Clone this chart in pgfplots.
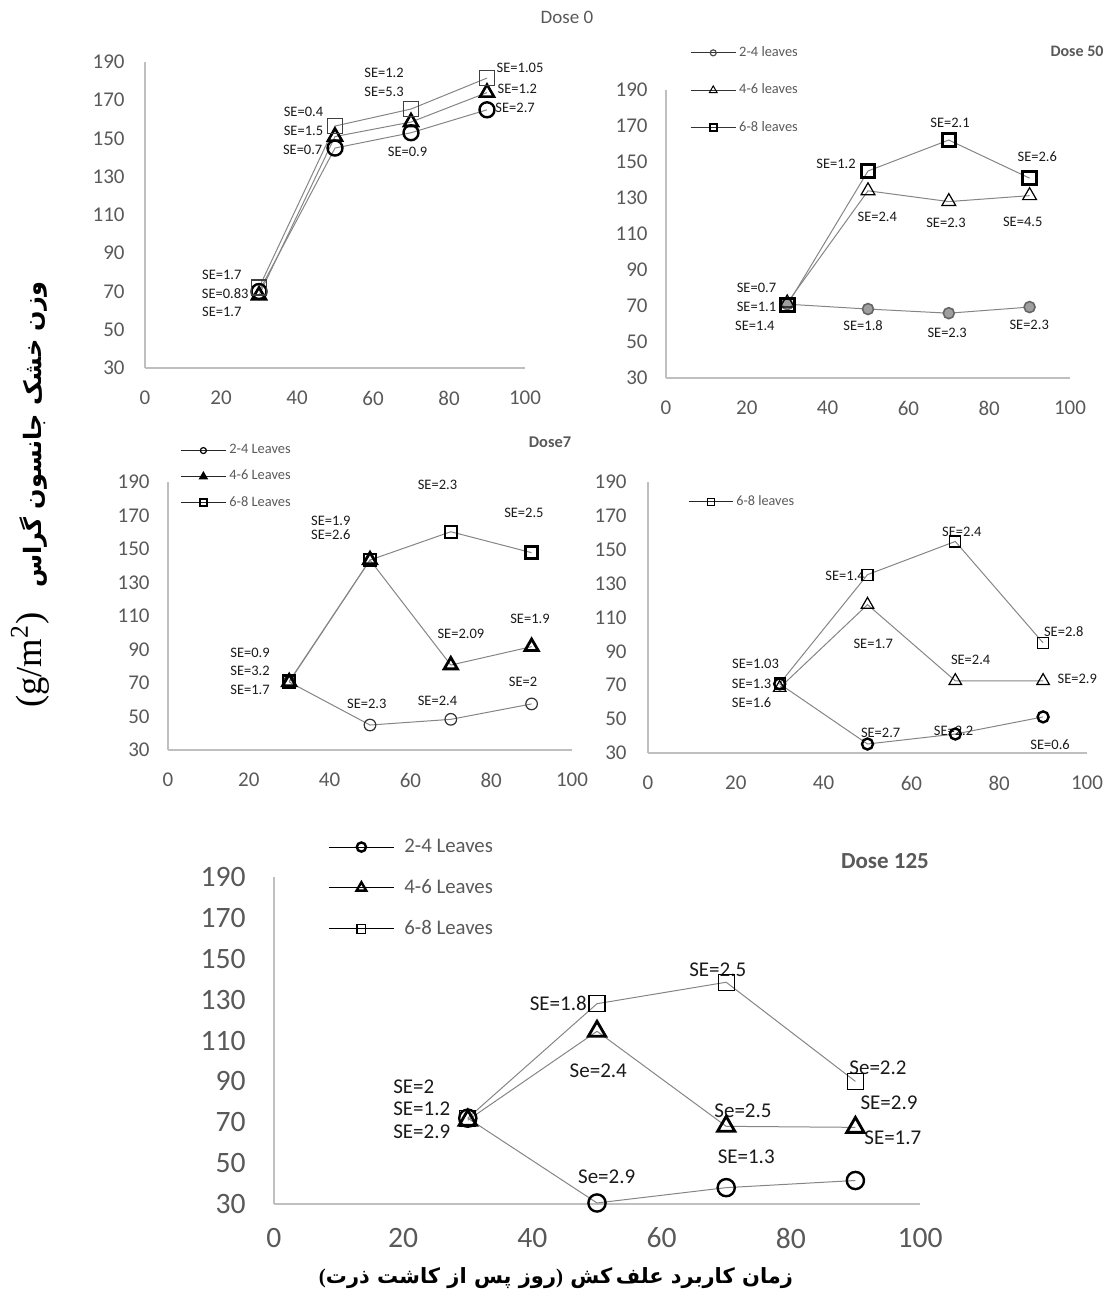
\documentclass[border=0pt]{standalone}
\usepackage{fontspec}
\usepackage{graphicx}
\usepackage{pgfplots}
\pgfplotsset{compat=1.18}
\setmainfont{Carlito}
\newfontfamily\arabicfont[Script=Arabic]{DejaVu Sans}
\newfontfamily\timesfont{Liberation Serif}
\TeXXeTstate=1
\definecolor{axgray}{HTML}{BFBFBF}
\definecolor{tickgray}{HTML}{595959}
\definecolor{linegray}{HTML}{858585}
\definecolor{setext}{HTML}{1A1A1A}
\pgfplotsset{
 panel/.style={
  scale only axis, anchor=south west,
  xmin=0,xmax=100,ymin=30,ymax=190,
  xtick={0,20,...,100}, ytick={30,50,...,190},
  axis lines=left, axis line style={draw=axgray,line width=1pt,-},
  major tick length=0pt, tick style={draw=none},
  /pgf/number format/assume math mode=true,
  tick label style={text=tickgray},
  clip=false,
  legend cell align=left,
  legend style={draw=none, fill=none, inner sep=0pt, text=tickgray, anchor=north west, column sep=1.5pt,
    nodes={inner sep=0pt}},
 },
 ticksize/.style={tick label style={font=\fontsize{#1}{#1}\selectfont}},
 ygap/.style={yticklabel style={anchor=east, inner sep=0pt, xshift=-#1}},
 xgap/.style={xticklabel style={anchor=center, inner sep=0pt, yshift=-#1}},
 ser/.style={color=linegray, line width=0.5pt},
 legimg/.style 2 args={legend image code/.code={\draw[mark repeat=2,mark phase=2,##1] plot coordinates {(0pt,0pt) (#2,0pt) (#1,0pt)};}},
}
\tikzset{se/.style={font=\fontsize{7.25}{8}\selectfont, text=setext, inner sep=0pt},
         sebig/.style={font=\fontsize{10.5}{11}\selectfont, text=setext, inner sep=0pt}}
\begin{document}
\begin{tikzpicture}
\useasboundingbox (0,0) rectangle (554pt,648pt);
% ---------------- Dose 0
\begin{axis}[panel, at={(72.5pt,464pt)}, width=190pt, height=153pt, ticksize=10.5, ygap=10pt, xgap=15pt]
\addplot[ser, mark=o, mark size=3.75pt, mark options={draw=black, line width=1.2pt}] coordinates {(30,70) (50,145) (70,153) (90,165)};
\addplot[ser, mark=triangle, mark size=4pt, mark options={draw=black, line width=1.3pt}] coordinates {(30,68) (50,151) (70,158.6) (90,174)};
\addplot[ser, mark=square, mark size=3.75pt, mark options={draw=black!75, line width=0.8pt}] coordinates {(30,72) (50,156.5) (70,165.4) (90,181.6)};
\node[se] at (axis cs:20.2,78.6) {SE=1.7};
\node[se] at (axis cs:21.1,69.1) {SE=0.83};
\node[se] at (axis cs:20.2,59.1) {SE=1.7};
\node[se] at (axis cs:41.7,164) {SE=0.4};
\node[se] at (axis cs:41.7,154.1) {SE=1.5};
\node[se] at (axis cs:41.5,144) {SE=0.7};
\node[se] at (axis cs:62.9,184.4) {SE=1.2};
\node[se] at (axis cs:62.9,174.5) {SE=5.3};
\node[se] at (axis cs:69.1,143.1) {SE=0.9};
\node[se] at (axis cs:98.7,187) {SE=1.05};
\node[se] at (axis cs:98,175.7) {SE=1.2};
\node[se] at (axis cs:97.4,165.8) {SE=2.7};
\end{axis}
% ---------------- Dose 50
\begin{axis}[panel, at={(333pt,459pt)}, width=202pt, height=144pt, ticksize=10.5, ygap=9pt, xgap=15pt,
  legimg={22.5pt}{11.25pt},
  legend style={at={(0.059,1.153)}, font=\fontsize{7.2}{8}\selectfont, row sep=12.25pt}]
\addlegendimage{black!80, line width=0.5pt, mark=o, mark size=1.5pt, mark options={draw=black!70, line width=0.6pt}}
\addlegendentry{2-4 leaves}
\addlegendimage{black!80, line width=0.5pt, mark=triangle, mark size=2.2pt, mark options={draw=black, line width=0.5pt}}
\addlegendentry{4-6 leaves}
\addlegendimage{black!80, line width=0.5pt, mark=square, mark size=1.8pt, mark options={draw=black, line width=1pt}}
\addlegendentry{6-8 leaves}
\addplot[ser, forget plot, mark=*, mark size=2.75pt, mark options={draw=black!60, fill=gray!75, line width=0.8pt}] coordinates {(30,71) (50,68.3) (70,66) (90,69.4)};
\addplot[ser, forget plot, mark=triangle, mark size=4pt, mark options={draw=black, line width=0.6pt}] coordinates {(30,71.7) (50,134) (70,128) (90,131.3)};
\addplot[ser, forget plot, mark=square, mark size=3.4pt, mark options={draw=black, line width=1.5pt}] coordinates {(30,70.5) (50,145) (70,162.2) (90,141)};
\node[se] at (axis cs:22.4,80.2) {SE=0.7};
\node[se] at (axis cs:22.4,69.6) {SE=1.1};
\node[se] at (axis cs:22.0,59.1) {SE=1.4};
\node[se] at (axis cs:42.1,148.7) {SE=1.2};
\node[se] at (axis cs:52.3,119.3) {SE=2.4};
\node[se] at (axis cs:70.3,172) {SE=2.1};
\node[se] at (axis cs:69.3,116.3) {SE=2.3};
\node[se] at (axis cs:91.9,153) {SE=2.6};
\node[se] at (axis cs:88.3,116.8) {SE=4.5};
\node[se] at (axis cs:48.8,58.9) {SE=1.8};
\node[se] at (axis cs:69.6,55.2) {SE=2.3};
\node[se] at (axis cs:89.9,59.4) {SE=2.3};
\end{axis}
% ---------------- Dose 7
\begin{axis}[panel, at={(84pt,273pt)}, width=202pt, height=134pt, ticksize=10.5, ygap=9pt, xgap=15pt,
  legimg={22.5pt}{11.25pt},
  legend style={at={(0.0297,1.1418)}, font=\fontsize{7.2}{8}\selectfont, row sep=6.75pt}]
\addlegendimage{black!85, line width=0.5pt, mark=o, mark size=1.5pt, mark options={draw=black, line width=0.6pt}}
\addlegendentry{2-4 Leaves}
\addlegendimage{black!85, line width=0.5pt, mark=triangle*, mark size=2.2pt, mark options={draw=black, fill=black, line width=0.6pt}}
\addlegendentry{4-6 Leaves}
\addlegendimage{black!85, line width=0.5pt, mark=square, mark size=1.8pt, mark options={draw=black, line width=1pt}}
\addlegendentry{6-8 Leaves}
\addplot[ser, forget plot, mark=o, mark size=2.9pt, mark options={draw=black!80, line width=0.6pt}] coordinates {(30,70.6) (50,44.9) (70,48.3) (90,57.5)};
\addplot[ser, forget plot, mark=triangle, mark size=3.8pt, mark options={draw=black, line width=1.4pt}] coordinates {(30,70.6) (50,143.4) (70,80.7) (90,91.7)};
\addplot[ser, forget plot, mark=square, mark size=3pt, mark options={draw=black, line width=1.2pt}] coordinates {(30,71) (50,143.4) (70,160.3) (90,147.8)};
\node[se] at (axis cs:20.3,88.1) {SE=0.9};
\node[se] at (axis cs:20.3,77.0) {SE=3.2};
\node[se] at (axis cs:20.3,65.8) {SE=1.7};
\node[se] at (axis cs:40.3,166.7) {SE=1.9};
\node[se] at (axis cs:40.3,158.4) {SE=2.6};
\node[se] at (axis cs:66.7,188.2) {SE=2.3};
\node[se] at (axis cs:88.1,171.6) {SE=2.5};
\node[se] at (axis cs:72.5,99.6) {SE=2.09};
\node[se] at (axis cs:89.6,108.1) {SE=1.9};
\node[se] at (axis cs:49.2,57.3) {SE=2.3};
\node[se] at (axis cs:66.7,59.4) {SE=2.4};
\node[se] at (axis cs:87.9,70.4) {SE=2};
\end{axis}
% ---------------- Dose 100 (untitled)
\begin{axis}[panel, at={(324pt,271.5pt)}, width=219.5pt, height=135.5pt, ticksize=10.5, ygap=10.5pt, xgap=15pt,
  legimg={22pt}{11pt},
  legend style={at={(0.0911,0.952)}, font=\fontsize{7.1}{8}\selectfont}]
\addlegendimage{black!85, line width=0.5pt, mark=square, mark size=1.8pt, mark options={draw=black, line width=0.6pt}}
\addlegendentry{6-8 leaves}
\addplot[ser, forget plot, mark=o, mark size=2.75pt, mark options={draw=black, line width=1.2pt}] coordinates {(30,70.8) (50,35.3) (70,41.2) (90,51.3)};
\addplot[ser, forget plot, mark=triangle, mark size=3.6pt, mark options={draw=black, line width=0.6pt}] coordinates {(30,68.5) (50,117.6) (70,72.6) (90,72.6)};
\addplot[ser, forget plot, mark=square, mark size=2.75pt, mark options={draw=black, line width=0.6pt}] coordinates {(30,71) (50,135.3) (70,154.9) (90,95)};
\node[se] at (axis cs:24.5,82.5) {SE=1.03};
\node[se] at (axis cs:23.6,70.7) {SE=1.3};
\node[se] at (axis cs:23.6,59.6) {SE=1.6};
\node[se] at (axis cs:44.9,134.8) {SE=1.4};
\node[se] at (axis cs:71.5,160.3) {SE=2.4};
\node[se] at (axis cs:51.3,94.7) {SE=1.7};
\node[se] at (axis cs:73.5,84.9) {SE=2.4};
\node[se] at (axis cs:94.7,101.6) {SE=2.8};
\node[se] at (axis cs:97.8,73.5) {SE=2.9};
\node[se] at (axis cs:53.0,42.0) {SE=2.7};
\node[se] at (axis cs:69.6,42.9) {SE=2.2};
\node[se] at (axis cs:91.6,35.2) {SE=0.6};
\end{axis}
% ---------------- Dose 125
\begin{axis}[panel, at={(137pt,46pt)}, width=323pt, height=163.5pt, ticksize=14.8, ygap=14pt, xgap=17pt,
  legimg={32.5pt}{16.25pt},
  legend style={at={(0.0836,1.118)}, font=\fontsize{10.4}{11}\selectfont, row sep=12pt, column sep=5pt}]
\addlegendimage{black, line width=0.5pt, mark=o, mark size=2.3pt, mark options={draw=black, line width=1.2pt}}
\addlegendentry{2-4 Leaves}
\addlegendimage{black, line width=0.5pt, mark=triangle, mark size=2.8pt, mark options={draw=black, line width=1.2pt}}
\addlegendentry{4-6 Leaves}
\addlegendimage{black, line width=0.5pt, mark=square, mark size=2.2pt, mark options={draw=black, line width=0.6pt}}
\addlegendentry{6-8 Leaves}
\addplot[ser, forget plot, mark=o, mark size=4.3pt, mark options={draw=black, line width=1.2pt}] coordinates {(30,72) (50,30.5) (70,38) (90,41.5)};
\addplot[ser, forget plot, mark=triangle, mark size=5pt, mark options={draw=black, line width=1.4pt}] coordinates {(30,71) (50,114.5) (70,68) (90,67.5)};
\addplot[ser, forget plot, mark=square, mark size=4pt, mark options={draw=black, line width=0.6pt}] coordinates {(30,72) (50,128) (70,138.5) (90,90)};
\node[sebig, anchor=west] at (axis cs:18.4,87.2) {SE=2};
\node[sebig, anchor=west] at (axis cs:18.4,76.5) {SE=1.2};
\node[sebig, anchor=west] at (axis cs:18.4,65.2) {SE=2.9};
\node[sebig] at (axis cs:44,128.3) {SE=1.8};
\node[sebig] at (axis cs:50.2,95.1) {Se=2.4};
\node[sebig] at (axis cs:51.5,43.2) {Se=2.9};
\node[sebig] at (axis cs:68.7,144.5) {SE=2.5};
\node[sebig] at (axis cs:93.5,96.5) {Se=2.2};
\node[sebig] at (axis cs:95.2,79.4) {SE=2.9};
\node[sebig] at (axis cs:72.6,75.5) {Se=2.5};
\node[sebig] at (axis cs:95.8,62.3) {SE=1.7};
\node[sebig] at (axis cs:73.1,53) {SE=1.3};
\end{axis}
% ---------------- titles
\node[font=\fontsize{9.5}{10}\selectfont, text=tickgray] at (283.5pt,639.5pt) {Dose 0};
\node[font=\bfseries\fontsize{8}{9}\selectfont, text=tickgray] at (538.5pt,622.5pt) {Dose 50};
\node[font=\bfseries\fontsize{8.2}{9}\selectfont, text=tickgray] at (275pt,427pt) {Dose7};
\node[font=\bfseries\fontsize{11.5}{12}\selectfont, text=tickgray] at (442.5pt,217.5pt) {Dose 125};
% ---------------- axis titles
\node[rotate=90, inner sep=0pt] at (15pt,400.5pt) {\resizebox{48pt}{!}{\timesfont (g/m\textsuperscript{2})}\hspace{12pt}\resizebox{153pt}{!}{\arabicfont\bfseries\beginR وزن خشک جانسون گراس\endR}};
\node[inner sep=0pt] at (278pt,9pt) {\resizebox{237pt}{!}{{\timesfont\bfseries (}{\arabicfont\bfseries\beginR روز پس از کاشت ذرت\endR}{\timesfont\bfseries )}\hspace{0.35em}{\arabicfont\bfseries\beginR زمان کاربرد علف\,کش\endR}}};
\end{tikzpicture}
\end{document}
